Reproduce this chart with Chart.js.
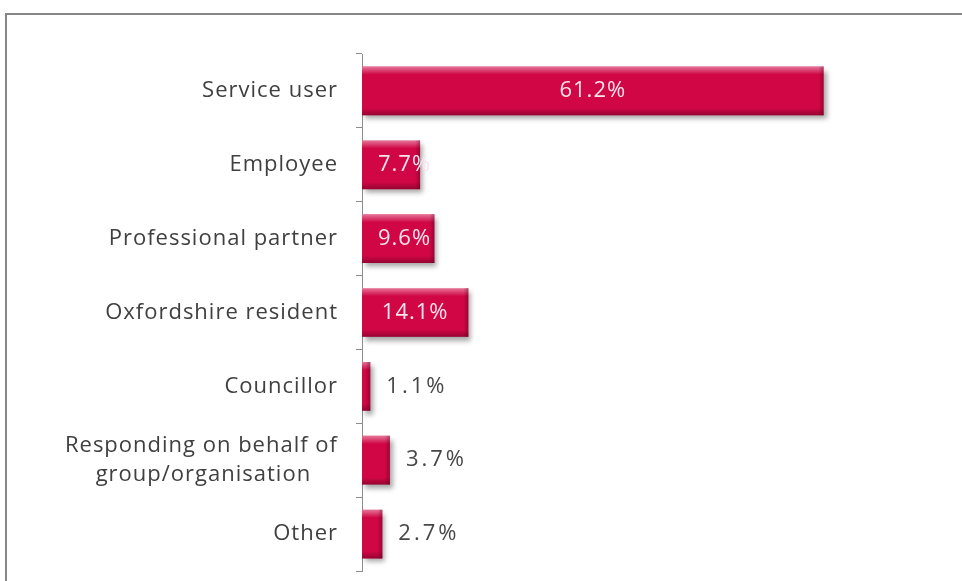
<!DOCTYPE html>
<html>
<head>
<meta charset="utf-8">
<script src="https://cdn.jsdelivr.net/npm/chart.js@4.4.0/dist/chart.umd.min.js"></script>
<style>
  html, body { margin: 0; padding: 0; background: #fff; overflow: hidden; }
  #wrap { position: relative; width: 962px; height: 581px; }
  #frame { position: absolute; left: 5px; top: 13px; width: 1000px; height: 1000px;
           border: 2px solid #878787; box-sizing: border-box; }
  #myChart { position: absolute; left: 0; top: 0; }
</style>
</head>
<body>
<div id="wrap">
  <div id="frame"></div>
  <canvas id="myChart" width="962" height="581"></canvas>
</div>
<script>
const labels = [
  'Service user',
  'Employee',
  'Professional partner',
  'Oxfordshire resident',
  'Councillor',
  ['Responding on behalf of', 'group/organisation'],
  'Other'
];
const percentages = [61.2, 7.7, 9.6, 14.1, 1.1, 3.7, 2.7];

const barColor = '#d00645';
const font = '"Open Sans", "Noto Sans", sans-serif';
const tickFont = '22px ' + font;

// multi-line labels: pad the shorter lines so each line sits centred in the block
const measureCtx = document.createElement('canvas').getContext('2d');
function centreLines(label) {
  if (!Array.isArray(label)) return label;
  measureCtx.font = tickFont;
  measureCtx.letterSpacing = '1px';
  const widths = label.map(l => measureCtx.measureText(l).width);
  const maxW = Math.max(...widths);
  const space = measureCtx.measureText(' ').width;
  return label.map((l, i) => l + ' '.repeat(Math.round((maxW - widths[i]) / 2 / space)));
}

// wider letter spacing for the category labels
const spacing = {
  id: 'spacing',
  beforeDraw(chart) {
    chart.ctx.letterSpacing = '1px';
  }
};

// soft drop shadow under the bars
const barShadow = {
  id: 'barShadow',
  beforeDatasetsDraw(chart) {
    const ctx = chart.ctx;
    ctx.save();
    ctx.shadowColor = 'rgba(0,0,0,0.35)';
    ctx.shadowOffsetX = 3;
    ctx.shadowOffsetY = 4;
    ctx.shadowBlur = 5;
  },
  afterDatasetsDraw(chart) {
    chart.ctx.restore();
  }
};

// bevelled edges and value labels
const barDecor = {
  id: 'barDecor',
  afterDatasetsDraw(chart) {
    const ctx = chart.ctx;
    const meta = chart.getDatasetMeta(0);
    meta.data.forEach((bar, i) => {
      const left = Math.min(bar.base, bar.x);
      const right = Math.max(bar.base, bar.x);
      const top = bar.y - bar.height / 2;
      const bottom = bar.y + bar.height / 2;
      const w = right - left;
      const h = bottom - top;
      ctx.save();
      let g = ctx.createLinearGradient(0, top, 0, top + 8);
      g.addColorStop(0, 'rgba(255,255,255,0.45)');
      g.addColorStop(1, 'rgba(255,255,255,0)');
      ctx.fillStyle = g;
      ctx.fillRect(left, top, w, 8);
      g = ctx.createLinearGradient(0, bottom - 7, 0, bottom);
      g.addColorStop(0, 'rgba(60,0,20,0)');
      g.addColorStop(1, 'rgba(60,0,20,0.4)');
      ctx.fillStyle = g;
      ctx.fillRect(left, bottom - 7, w, 7);
      if (w > 8) {
        g = ctx.createLinearGradient(right - 5, 0, right, 0);
        g.addColorStop(0, 'rgba(60,0,20,0)');
        g.addColorStop(1, 'rgba(60,0,20,0.35)');
        ctx.fillStyle = g;
        ctx.fillRect(right - 5, top, 5, h);
      }
      ctx.restore();

      const v = percentages[i];
      const text = v.toFixed(1) + '%';
      ctx.save();
      ctx.font = '22px ' + font;
      ctx.textBaseline = 'middle';
      ctx.textAlign = 'left';
      if (v > 5) {
        ctx.letterSpacing = '1px';
        const tw = ctx.measureText(text).width;
        ctx.fillStyle = '#fbe3ec';
        const x = Math.max((left + right) / 2 - tw / 2, left + 16);
        ctx.fillText(text, x, bar.y);
      } else {
        ctx.letterSpacing = '3px';
        ctx.fillStyle = '#474747';
        ctx.fillText(text, right + 16, bar.y);
      }
      ctx.restore();
    });
  }
};

const config = {
  type: 'bar',
  data: {
    labels: labels,
    datasets: [{
      data: percentages,
      backgroundColor: barColor,
      borderWidth: 0,
      barPercentage: 0.66,
      categoryPercentage: 1
    }]
  },
  options: {
    indexAxis: 'y',
    responsive: false,
    animation: false,
    layout: { padding: { top: 54, bottom: 10, left: 0, right: 72 } },
    plugins: {
      legend: { display: false },
      tooltip: { enabled: false }
    },
    scales: {
      x: { display: false, min: 0, max: 70 },
      y: {
        afterFit(axis) {
          axis.width = 362;
          axis.paddingTop = 0;
          axis.paddingBottom = 0;
        },
        border: { color: '#8c8c8c', width: 1 },
        grid: {
          offset: true,
          drawOnChartArea: false,
          drawTicks: true,
          tickLength: 6,
          color: '#8c8c8c'
        },
        ticks: {
          padding: 18,
          color: '#404040',
          font: { family: font, size: 22, lineHeight: 1.3 },
          callback(value) {
            return centreLines(this.getLabelForValue(value));
          }
        }
      }
    }
  },
  plugins: [spacing, barShadow, barDecor]
};

const myChart = new Chart(document.getElementById('myChart').getContext('2d'), config);
</script>
</body>
</html>
